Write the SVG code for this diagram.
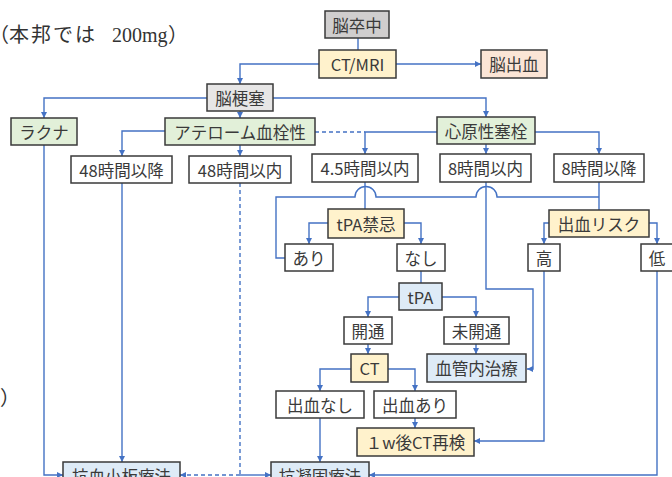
<svg xmlns="http://www.w3.org/2000/svg" width="672" height="477" viewBox="0 0 672 477">
<defs>
<marker id="ah" markerUnits="userSpaceOnUse" markerWidth="7" markerHeight="7" refX="6" refY="3" orient="auto">
<path d="M0,0 L6,3 L0,6 z" fill="#4472c4"/>
</marker>
<style>
.n rect{stroke:#3a3a3a;stroke-width:1.5}
.n text{font-family:"Noto Sans CJK JP","Liberation Sans",sans-serif;font-size:16.5px;fill:#3a3a3a;text-anchor:middle;dominant-baseline:central}
.gr rect{fill:#d0cece}.lg rect{fill:#e7e6e6}.ye rect{fill:#fff2cc}.pe rect{fill:#fbe5d6}
.gn rect{fill:#e2f0d9}.bl rect{fill:#deebf7}.wh rect{fill:#ffffff}
#edges path{fill:none;stroke:#4472c4;stroke-width:1.4}
#edges .a{marker-end:url(#ah)}
#edges .d{stroke-dasharray:4 3}
.note{font-family:"Liberation Serif","Noto Sans CJK JP",serif;font-size:20px;fill:#333}
</style>
</defs>
<rect width="672" height="477" fill="#fff"/>
<text class="note" y="42"><tspan x="-11">（</tspan><tspan x="9" letter-spacing="2">本邦では</tspan><tspan x="112">200mg</tspan><tspan x="168">）</tspan></text>
<text class="note" x="0" y="405">）</text>
<g id="edges">
<path d="M358,38 V50"/>
<path class="a" d="M396,64 H481"/>
<path class="a" d="M319,64 H240 V84"/>
<path class="a" d="M207,98 H44 V118"/>
<path class="a" d="M273,98 H486 V117"/>
<path class="a" d="M240,111 V118"/>
<path class="a" d="M165,131 H122 V156"/>
<path class="a" d="M240,145 V156"/>
<path class="d" d="M315,132 H365"/>
<path class="a" d="M437,132 H365 V154"/>
<path class="a" d="M486,144 V154"/>
<path class="a" d="M535,132 H599 V154"/>
<path d="M365,182 V209"/>
<path d="M599,182 V210"/>
<path d="M599,197 H497 A10.5,10.5 0 0 0 476,197 H376 A10.5,10.5 0 0 0 355,197 H276 V258 H285"/>
<path class="a" d="M486,182 V289 H533 V369 H527"/>
<path class="a" d="M328,223 H309 V244"/>
<path class="a" d="M404,223 H421 V244"/>
<path d="M421,271 V283"/>
<path class="a" d="M399,297 H368 V317"/>
<path class="a" d="M442,297 H476 V317"/>
<path class="a" d="M476,344 V354"/>
<path class="a" d="M368,344 V354"/>
<path class="a" d="M351,369 H320 V391"/>
<path class="a" d="M388,369 H415 V391"/>
<path class="a" d="M415,418 V428"/>
<path class="a" d="M320,418 V462"/>
<path class="a" d="M549,223 H544 V244"/>
<path class="a" d="M649,223 H657 V244"/>
<path class="a" d="M544,271 V441 H474"/>
<path class="a" d="M657,271 V475 H369"/>
<path class="a" d="M44,145 V475 H63"/>
<path class="a" d="M122,183 V462"/>
<path class="d" d="M240,183 V475"/>
<path class="a" d="M240,475 H271"/>
<path class="a d" d="M240,475 H180"/>
</g>
<g id="n-stroke" class="n gr"><rect x="325" y="11" width="64" height="27"/><text x="357" y="24.5">脳卒中</text></g>
<g id="n-ctmri" class="n ye"><rect x="319" y="50" width="77" height="28"/><text x="357.5" y="64">CT/MRI</text></g>
<g id="n-ich" class="n pe"><rect x="481" y="50" width="66" height="28"/><text x="514" y="64">脳出血</text></g>
<g id="n-infarct" class="n lg"><rect x="207" y="84" width="66" height="27"/><text x="240" y="97.5">脳梗塞</text></g>
<g id="n-lacuna" class="n gn"><rect x="11" y="118" width="66" height="27"/><text x="44" y="131.5">ラクナ</text></g>
<g id="n-athero" class="n gn"><rect x="165" y="118" width="150" height="27"/><text x="240" y="131.5">アテローム血栓性</text></g>
<g id="n-cardio" class="n gn"><rect x="437" y="117" width="98" height="27"/><text x="486" y="130.5">心原性塞栓</text></g>
<g id="n-48after" class="n wh"><rect x="71" y="156" width="101" height="27"/><text x="121.5" y="169.5">48時間以降</text></g>
<g id="n-48within" class="n wh"><rect x="189" y="156" width="102" height="27"/><text x="240" y="169.5">48時間以内</text></g>
<g id="n-45within" class="n wh"><rect x="312" y="154" width="106" height="28"/><text x="365" y="168">4.5時間以内</text></g>
<g id="n-8within" class="n wh"><rect x="440" y="154" width="91" height="28"/><text x="485.5" y="168">8時間以内</text></g>
<g id="n-8after" class="n wh"><rect x="554" y="154" width="90" height="28"/><text x="599" y="168">8時間以降</text></g>
<g id="n-tpacontra" class="n ye"><rect x="328" y="209" width="76" height="29"/><text x="366" y="223.5">tPA禁忌</text></g>
<g id="n-bleedrisk" class="n ye"><rect x="549" y="210" width="100" height="27"/><text x="599" y="223.5">出血リスク</text></g>
<g id="n-yes" class="n wh"><rect x="285" y="244" width="48" height="27"/><text x="309" y="257.5">あり</text></g>
<g id="n-no" class="n wh"><rect x="397" y="244" width="48" height="27"/><text x="421" y="257.5">なし</text></g>
<g id="n-high" class="n wh"><rect x="528" y="244" width="32" height="27"/><text x="544" y="257.5">高</text></g>
<g id="n-low" class="n wh"><rect x="641" y="244" width="32" height="27"/><text x="657" y="257.5">低</text></g>
<g id="n-tpa" class="n bl"><rect x="399" y="283" width="43" height="27"/><text x="420.5" y="296.5">tPA</text></g>
<g id="n-open" class="n wh"><rect x="344" y="317" width="48" height="27"/><text x="368" y="330.5">開通</text></g>
<g id="n-notopen" class="n wh"><rect x="444" y="317" width="65" height="27"/><text x="476.5" y="330.5">未開通</text></g>
<g id="n-ct" class="n ye"><rect x="351" y="354" width="37" height="28"/><text x="369.5" y="368">CT</text></g>
<g id="n-endo" class="n bl"><rect x="427" y="354" width="99" height="28"/><text x="476.5" y="368">血管内治療</text></g>
<g id="n-nobleed" class="n wh"><rect x="276" y="391" width="88" height="27"/><text x="320" y="404.5">出血なし</text></g>
<g id="n-bleed" class="n wh"><rect x="374" y="391" width="82" height="27"/><text x="415" y="404.5">出血あり</text></g>
<g id="n-recheck" class="n ye"><rect x="357" y="428" width="117" height="28"/><text x="415.5" y="442">１w後CT再検</text></g>
<g id="n-antiplt" class="n bl"><rect x="63" y="462" width="117" height="28"/><text x="121.5" y="476">抗血小板療法</text></g>
<g id="n-anticoag" class="n bl"><rect x="271" y="462" width="98" height="28"/><text x="320" y="476">抗凝固療法</text></g>
</svg>
